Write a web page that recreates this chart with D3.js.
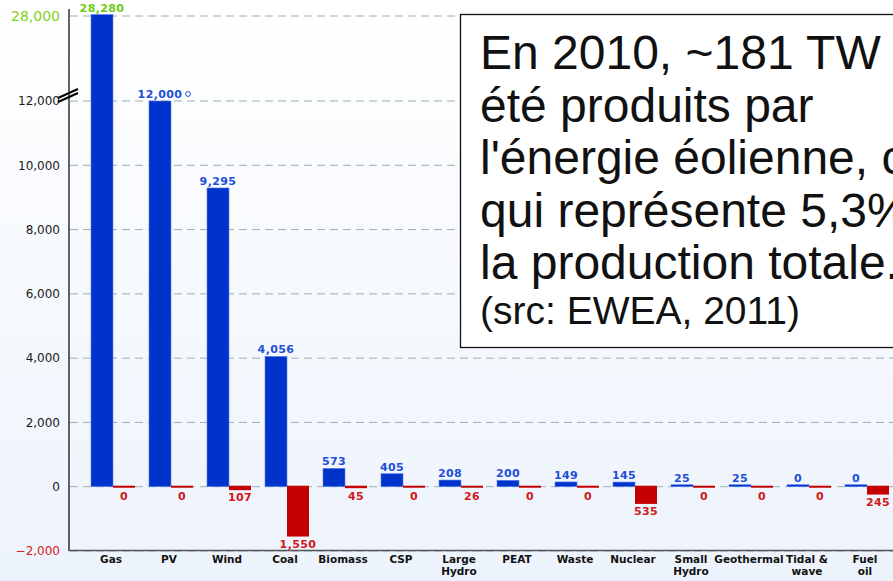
<!DOCTYPE html>
<html>
<head>
<meta charset="utf-8">
<script src="https://cdn.jsdelivr.net/npm/d3@7"></script>
<style>
  body { margin: 0; overflow: hidden; }
  svg { display: block; }
</style>
</head>
<body>
<div id="content"></div>
<script>
// categories and values (MW installed / decommissioned, 2010)
const categories = ["Gas", "PV", "Wind", "Coal", "Biomass", "CSP", "Large Hydro", "PEAT",
                    "Waste", "Nuclear", "Small Hydro", "Geothermal", "Tidal & wave", "Fuel oil"];
const installed = [28280, 12000, 9295, 4056, 573, 405, 208, 200, 149, 145, 25, 25, 0, 0];
const decommissioned = [0, 0, 107, 1550, 45, 0, 26, 0, 0, 535, 0, 0, 0, 245];
const tickValues = [-2000, 0, 2000, 4000, 6000, 8000, 10000, 12000, 28000];
const noteLines = ["En 2010, ~181 TW",
                   "été produits par",
                   "l'énergie éolienne, c",
                   "qui représente 5,3%",
                   "la production totale."];
const noteSource = "(src: EWEA, 2011)";

const W = 893, H = 581;
const blue = "#0033cc", red = "#c40000";

const svg = d3.select("#content").append("svg")
    .attr("width", W)
    .attr("height", H);

// background gradient
let grad = svg.append("defs").append("linearGradient")
    .attr("id", "bg").attr("x1", 0).attr("y1", 0).attr("x2", 0).attr("y2", 1);
grad.append("stop").attr("offset", "0%").attr("stop-color", "#ffffff");
grad.append("stop").attr("offset", "100%").attr("stop-color", "#edf3fc");
svg.append("rect").attr("width", W).attr("height", H).attr("fill", "url(#bg)");

// broken y scale: -2000..12000 linear, then compressed up to 28000
const y = d3.scaleLinear()
    .domain([-2000, 12000, 28000])
    .range([551, 101, 16]);

const x = d3.scaleBand().domain(categories).range([84, 896]);
const xs = d3.scaleBand().domain(["inst", "dec"]).range([7, 51]);

// grid lines
svg.append("g")
    .selectAll("line")
    .data(tickValues)
    .enter().append("line")
    .attr("x1", 70).attr("x2", W)
    .attr("y1", d => y(d)).attr("y2", d => y(d))
    .style("stroke", "#9bb1ae")
    .style("stroke-width", 1)
    .style("stroke-dasharray", "8,5");

// y axis
const yAxis = svg.append("g")
    .attr("transform", "translate(69,0)")
    .call(d3.axisLeft(y).tickValues(tickValues).tickSize(0).tickPadding(9)
            .tickFormat(d3.format(",")));
yAxis.select(".domain").remove();
yAxis.selectAll("text")
    .style("font-family", "DejaVu Sans, Verdana, sans-serif")
    .style("font-size", d => d == 28000 ? "14px" : "12px")
    .style("fill", d => d == 28000 ? "#7fd21c" : d == -2000 ? "#d42020" : "#1a1a1a");

svg.append("line")
    .attr("x1", 69).attr("x2", 69).attr("y1", 9).attr("y2", 551)
    .style("stroke", "#111").style("stroke-width", 1.3);
svg.append("line")
    .attr("x1", 69).attr("x2", W).attr("y1", 550.5).attr("y2", 550.5)
    .style("stroke", "#555").style("stroke-width", 1.3);

// axis break mark
[0, 4].forEach(o => {
    svg.append("line")
        .attr("x1", 58).attr("y1", y(12000) - 3 + o)
        .attr("x2", 78).attr("y2", y(12000) - 12 + o)
        .style("stroke", "#000").style("stroke-width", 2);
});

// groups
let groups = svg.append("g")
    .selectAll("g")
    .data(categories.map((c, i) => ({cat: c, inst: installed[i], dec: decommissioned[i]})))
    .enter().append("g")
    .attr("transform", d => `translate(${x(d.cat)},0)`);

groups.append("rect")
    .attr("x", xs("inst"))
    .attr("width", xs.bandwidth())
    .attr("y", d => Math.min(y(d.inst), y(0) - 2))
    .attr("height", d => Math.max(y(0) - y(d.inst), 2))
    .style("fill", blue)
    .style("stroke", "#5c86ee")
    .style("stroke-width", 0.6);

groups.append("rect")
    .attr("x", xs("dec"))
    .attr("width", xs.bandwidth())
    .attr("y", y(0) - 1)
    .attr("height", d => Math.max(y(-d.dec) - y(0) + 1, 2))
    .style("fill", red);

const valFont = "DejaVu Sans, Verdana, sans-serif";

groups.append("text")
    .attr("x", xs("inst") + xs.bandwidth() / 2)
    .attr("y", d => Math.min(y(d.inst), y(0) - 2) - 3)
    .attr("text-anchor", "middle")
    .style("font-family", valFont)
    .style("font-weight", "bold")
    .style("font-size", "11px")
    .style("letter-spacing", "0.4px")
    .style("fill", d => d.inst > 20000 ? "#6ccc14" : "#1d4fd8")
    .text(d => d3.format(",")(d.inst));

// small circle note mark after the PV label
groups.filter(d => d.cat == "PV").append("circle")
    .attr("cx", xs("inst") + xs.bandwidth() / 2 + 28)
    .attr("cy", y(12000) - 7)
    .attr("r", 2.4)
    .style("fill", "none")
    .style("stroke", "#1d4fd8")
    .style("stroke-width", 1);

groups.append("text")
    .attr("x", xs("dec") + xs.bandwidth() / 2)
    .attr("y", d => y(0) + Math.max(y(-d.dec) - y(0), 2) + 11)
    .attr("text-anchor", "middle")
    .style("font-family", valFont)
    .style("font-weight", "bold")
    .style("font-size", "11px")
    .style("letter-spacing", "0.4px")
    .style("fill", "#d01818")
    .text(d => d3.format(",")(d.dec));

// category labels, two lines where needed
const splitLabel = {"Large Hydro": ["Large", "Hydro"], "Small Hydro": ["Small", "Hydro"],
                    "Tidal & wave": ["Tidal &", "wave"], "Fuel oil": ["Fuel", "oil"]};
let catText = groups.append("text")
    .attr("text-anchor", "middle")
    .style("font-family", valFont)
    .style("font-weight", "bold")
    .style("font-size", "10.5px")
    .style("fill", "#111");
catText.selectAll("tspan")
    .data(d => splitLabel[d.cat] || [d.cat])
    .enter().append("tspan")
    .attr("x", x.bandwidth() / 2 - 2)
    .attr("y", (d, i) => 563 + i * 12)
    .text(d => d);

// text box overlay
const note = svg.append("g");
note.append("rect")
    .attr("x", 460.5).attr("y", 14.5)
    .attr("width", 460).attr("height", 333)
    .style("fill", "#fff")
    .style("stroke", "#111")
    .style("stroke-width", 1.3);
note.selectAll("text.line")
    .data(noteLines)
    .enter().append("text")
    .attr("class", "line")
    .attr("x", 480)
    .attr("y", (d, i) => 69 + i * 52.5)
    .style("font-family", "Liberation Sans, Arial, sans-serif")
    .style("font-size", "48px")
    .style("fill", "#111")
    .text(d => d);
note.append("text")
    .attr("x", 480)
    .attr("y", 324)
    .style("font-family", "Liberation Sans, Arial, sans-serif")
    .style("font-size", "39px")
    .style("fill", "#111")
    .text(noteSource);
</script>
</body>
</html>
